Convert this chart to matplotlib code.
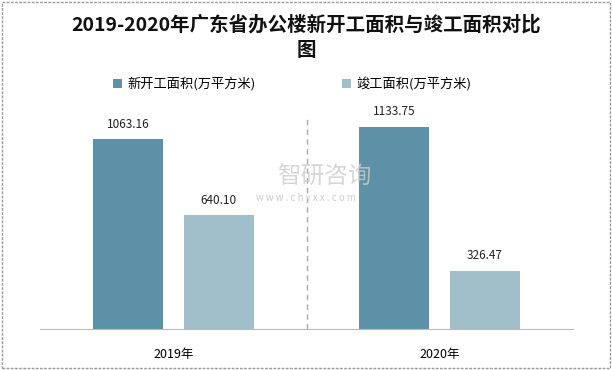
import matplotlib.pyplot as plt
import numpy as np
from matplotlib.patches import Rectangle

plt.rcParams['font.family'] = ['Noto Sans CJK SC', 'DejaVu Sans']

years = ["2019年", "2020年"]
new_start = [1063.16, 1133.75]
completed = [640.10, 326.47]
labels = ["新开工面积(万平方米)", "竣工面积(万平方米)"]

fig = plt.figure(figsize=(6.12, 3.70), dpi=100)
ax = fig.add_axes([40 / 612, 1 - 329 / 370, 533 / 612, 214 / 370])

x = np.arange(len(years))
w = 0.263
b1 = ax.bar(x - 0.17, new_start, w, color="#5d91a7", label=labels[0])
b2 = ax.bar(x + 0.17, completed, w, color="#a0bfcb", label=labels[1])

for bars in (b1, b2):
    for r in bars:
        ax.annotate("%.2f" % r.get_height(), (r.get_x() + r.get_width() / 2, r.get_height()),
                    xytext=(0, 6), textcoords="offset points", ha="center", va="bottom",
                    fontsize=8.5, color="#222222")

ax.set_xlim(-0.5, 1.5)
ax.set_ylim(0, 1200)
ax.axvline(0.5, color="#aaaaaa", linestyle=(0, (4, 3)), linewidth=1)
ax.set_yticks([])
ax.set_xticks(x)
ax.set_xticklabels(years, fontsize=9)
ax.tick_params(axis="x", length=0, pad=14)
for s in ["top", "right", "left"]:
    ax.spines[s].set_visible(False)
ax.spines["bottom"].set_color("#bbbbbb")

fig.text(0.5, 1 - 25 / 370, "2019-2020年广东省办公楼新开工面积与竣工面积对比", ha="center", va="center",
         fontsize=14, fontweight="bold", color="#111111")
fig.text(0.5, 1 - 51 / 370, "图", ha="center", va="center", fontsize=14, fontweight="bold", color="#111111")

fig.legend(loc="center", bbox_to_anchor=(292 / 612, 1 - 84 / 370), ncol=2, frameon=False, fontsize=9.5,
           handlelength=0.7, handleheight=0.7, columnspacing=6.5, handletextpad=0.4)

# watermark
fig.text(0.53, 1 - 177 / 370, "智研咨询", ha="center", va="center", fontsize=17, color="#cccccc", alpha=0.8)
fig.text(0.5, 1 - 198 / 370, "w w w . c h y x x . c o m", ha="center", va="center", fontsize=7, color="#cccccc")

fig.patches.append(Rectangle((2 / 612, 2 / 370), 608 / 612, 366 / 370, transform=fig.transFigure,
                             fill=False, edgecolor="#999999", linestyle=(0, (2, 1)), linewidth=1))

fig.savefig("out.png", dpi=100)
